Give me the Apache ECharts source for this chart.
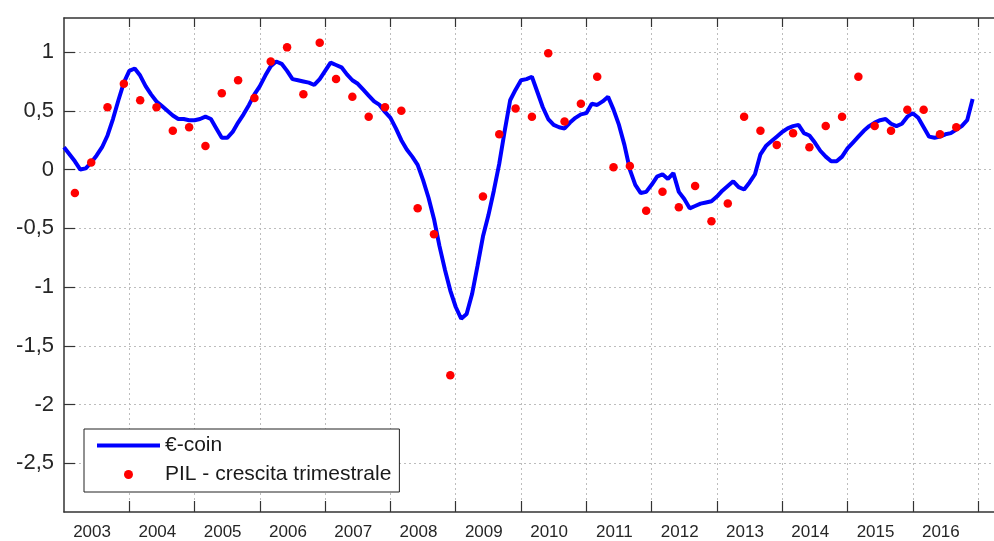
<!DOCTYPE html>
<html>
<head>
<meta charset="utf-8">
<script src="https://cdn.jsdelivr.net/npm/echarts@6/dist/echarts.min.js"></script>
<style>
  html, body { margin: 0; padding: 0; background: #ffffff; }
  #chart { width: 994px; height: 541px; }
</style>
</head>
<body>
<div id="chart"></div>
<script>
// ---- Data ----
const startYear = 2003;
const yearLabels = [2003, 2004, 2005, 2006, 2007, 2008, 2009, 2010, 2011, 2012, 2013, 2014, 2015, 2016];
const yTickValues = [-2.5, -2, -1.5, -1, -0.5, 0, 0.5, 1];

// €-coin, monthly, Jan 2003 - Dec 2016
const ecoin2003 = [0.19, 0.13, 0.07, 0.00, 0.01, 0.06, 0.12, 0.19, 0.29, 0.43, 0.59, 0.74];
const ecoin2004 = [0.84, 0.86, 0.80, 0.71, 0.64, 0.58, 0.54, 0.50, 0.46, 0.43, 0.43, 0.42];
const ecoin2005 = [0.42, 0.43, 0.45, 0.43, 0.35, 0.27, 0.27, 0.32, 0.40, 0.47, 0.55, 0.64];
const ecoin2006 = [0.71, 0.80, 0.88, 0.92, 0.90, 0.84, 0.77, 0.76, 0.75, 0.74, 0.72, 0.77];
const ecoin2007 = [0.84, 0.91, 0.89, 0.87, 0.81, 0.76, 0.73, 0.68, 0.63, 0.58, 0.55, 0.49];
const ecoin2008 = [0.44, 0.35, 0.25, 0.17, 0.11, 0.04, -0.09, -0.24, -0.42, -0.65, -0.85, -1.03];
const ecoin2009 = [-1.17, -1.27, -1.23, -1.06, -0.82, -0.57, -0.39, -0.18, 0.05, 0.33, 0.59, 0.68];
const ecoin2010 = [0.76, 0.77, 0.79, 0.66, 0.53, 0.43, 0.38, 0.36, 0.35, 0.40, 0.44, 0.47];
const ecoin2011 = [0.48, 0.56, 0.55, 0.58, 0.62, 0.51, 0.38, 0.21, 0.00, -0.13, -0.20, -0.19];
const ecoin2012 = [-0.13, -0.06, -0.04, -0.08, -0.03, -0.19, -0.25, -0.33, -0.31, -0.29, -0.28, -0.27];
const ecoin2013 = [-0.23, -0.18, -0.14, -0.10, -0.15, -0.17, -0.11, -0.04, 0.13, 0.20, 0.24, 0.28];
const ecoin2014 = [0.32, 0.35, 0.37, 0.38, 0.31, 0.29, 0.23, 0.16, 0.11, 0.07, 0.07, 0.11];
const ecoin2015 = [0.18, 0.23, 0.28, 0.33, 0.37, 0.40, 0.42, 0.43, 0.39, 0.37, 0.39, 0.45];
const ecoin2016 = [0.48, 0.44, 0.36, 0.28, 0.27, 0.28, 0.30, 0.31, 0.34, 0.37, 0.42, 0.60];

// PIL - crescita trimestrale, quarterly (Q1 2003 - Q3 2016); Q1 2009 falls below the visible range
const pil2003 = [-0.20, 0.06, 0.53, 0.73];
const pil2004 = [0.59, 0.53, 0.33, 0.36];
const pil2005 = [0.20, 0.65, 0.76, 0.61];
const pil2006 = [0.92, 1.04, 0.64, 1.08];
const pil2007 = [0.77, 0.62, 0.45, 0.53];
const pil2008 = [0.50, -0.33, -0.55, -1.75];
const pil2009 = [null, -0.23, 0.30, 0.52];
const pil2010 = [0.45, 0.99, 0.41, 0.56];
const pil2011 = [0.79, 0.02, 0.03, -0.35];
const pil2012 = [-0.19, -0.32, -0.14, -0.44];
const pil2013 = [-0.29, 0.45, 0.33, 0.21];
const pil2014 = [0.31, 0.19, 0.37, 0.45];
const pil2015 = [0.79, 0.37, 0.33, 0.51];
const pil2016 = [0.51, 0.30, 0.36];

// ---- Build series data ----
const ecoin = [].concat(ecoin2003, ecoin2004, ecoin2005, ecoin2006, ecoin2007, ecoin2008, ecoin2009,
  ecoin2010, ecoin2011, ecoin2012, ecoin2013, ecoin2014, ecoin2015, ecoin2016);
const pil = [].concat(pil2003, pil2004, pil2005, pil2006, pil2007, pil2008, pil2009,
  pil2010, pil2011, pil2012, pil2013, pil2014, pil2015, pil2016);

const ecoinData = ecoin.map((v, m) => [startYear + m / 12, v]);
const pilData = [];
pil.forEach((v, q) => { if (v !== null) pilData.push([startYear + (3 * q + 2) / 12, v]); });

const font = "'Liberation Sans', Arial, Helvetica, sans-serif";
const axisColor = '#333333';
const xMin = 2003, xMax = 2017.244;
const xTicks = yearLabels.slice(1).concat([yearLabels[yearLabels.length - 1] + 1]);
const gridLineStyle = { show: true, lineStyle: { color: '#bdbdbd', width: 1, type: [2, 3] } };

const chart = echarts.init(document.getElementById('chart'), null, { renderer: 'canvas' });
chart.setOption({
  animation: false,
  backgroundColor: '#ffffff',
  grid: { left: 64, right: 0, top: 18, bottom: 28, containLabel: false },
  xAxis: [
    {
      type: 'value', position: 'bottom', min: xMin, max: xMax,
      axisLine: { show: true, onZero: false, lineStyle: { color: axisColor, width: 1.5 } },
      axisTick: { show: true, inside: true, length: 11, customValues: xTicks, lineStyle: { color: axisColor, width: 1.2 } },
      axisLabel: {
        show: true, customValues: yearLabels.map(y => y + 0.43),
        formatter: v => String(Math.floor(v + 1e-6)),
        fontSize: 17, color: '#262626', margin: 12, fontFamily: font
      },
      splitLine: gridLineStyle
    },
    {
      type: 'value', position: 'top', min: xMin, max: xMax,
      axisLine: { show: true, onZero: false, lineStyle: { color: axisColor, width: 1.5 } },
      axisTick: { show: true, inside: true, length: 9, customValues: xTicks, lineStyle: { color: axisColor, width: 1.2 } },
      axisLabel: { show: false },
      splitLine: { show: false }
    }
  ],
  yAxis: [
    {
      type: 'value', min: -2.915, max: 1.29,
      axisLine: { show: true, onZero: false, lineStyle: { color: axisColor, width: 1.5 } },
      axisTick: { show: true, inside: true, length: 11, customValues: yTickValues, lineStyle: { color: axisColor, width: 1.2 } },
      axisLabel: {
        show: true, customValues: yTickValues,
        formatter: v => String(v).replace('.', ','),
        fontSize: 22, color: '#262626', margin: 10, fontFamily: font
      },
      splitLine: gridLineStyle
    }
  ],
  legend: {
    orient: 'vertical', left: 84, top: 429,
    padding: [6, 8, 7, 11], itemGap: 8, itemWidth: 63, itemHeight: 9,
    borderColor: '#222222', borderWidth: 1, borderRadius: 0, backgroundColor: '#ffffff',
    textStyle: { fontSize: 21, color: '#1a1a1a', fontFamily: font },
    data: [
      { name: '€-coin', itemStyle: { opacity: 0 }, lineStyle: { color: '#0000ff', width: 4 } },
      { name: 'PIL - crescita trimestrale', icon: 'circle' }
    ]
  },
  series: [
    {
      name: '€-coin', type: 'line', xAxisIndex: 0, yAxisIndex: 0,
      data: ecoinData, symbol: 'none', showSymbol: false, smooth: false,
      lineStyle: { color: '#0000ff', width: 4 }, itemStyle: { color: '#0000ff' },
      clip: true, z: 2
    },
    {
      name: 'PIL - crescita trimestrale', type: 'scatter', xAxisIndex: 0, yAxisIndex: 0,
      data: pilData, symbol: 'circle', symbolSize: 8.5,
      itemStyle: { color: '#ff0000', opacity: 1 }, clip: true, z: 3
    }
  ]
});
</script>
</body>
</html>
